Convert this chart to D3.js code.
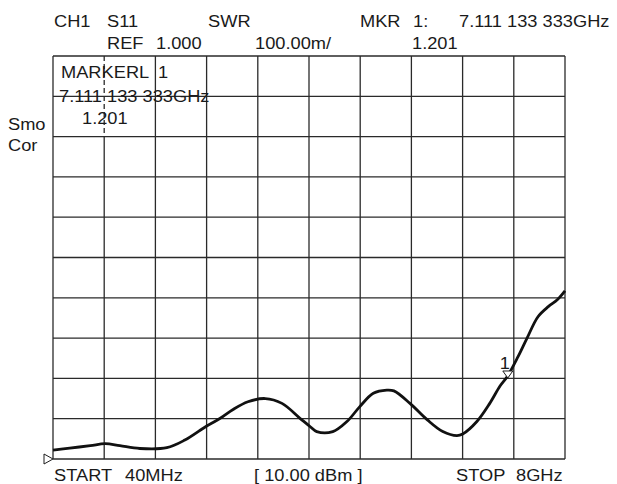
<!DOCTYPE html>
<html>
<head>
<meta charset="utf-8">
<script src="https://cdn.jsdelivr.net/npm/d3@7"></script>
<style>
  body { margin: 0; background: #fff; }
  text { font-family: "Liberation Sans", Arial, sans-serif; fill: #1a1a1a; }
</style>
</head>
<body>
<div id="chart"></div>
<script>
var svgWidth = 617;
var svgHeight = 484;

// trace (frequency in GHz, SWR)
var freqGHz = [0.04, 0.30, 0.62, 0.85, 1.08, 1.39, 1.81, 2.09, 2.43, 2.64, 2.84, 3.07, 3.34, 3.60,
  3.88, 4.04, 4.14, 4.39, 4.61, 4.81, 5.02, 5.23, 5.34, 5.59, 5.86, 6.10, 6.32, 6.41, 6.63,
  6.83, 6.99, 7.10, 7.27, 7.41, 7.58, 7.74, 7.88, 8.00];
var swr = [1.022, 1.027, 1.033, 1.038, 1.033, 1.026, 1.028, 1.047, 1.082, 1.101, 1.123, 1.142, 1.150, 1.138,
  1.101, 1.080, 1.068, 1.068, 1.093, 1.130, 1.163, 1.171, 1.169, 1.138, 1.097, 1.068, 1.058, 1.062, 1.093,
  1.138, 1.181, 1.204, 1.254, 1.300, 1.353, 1.378, 1.395, 1.417];

var startGHz = 0.04, stopGHz = 8;
var refValue = 1.0, perDiv = 0.1, divisions = 10;
var markerFreq = 7.111133333, markerValue = 1.201;

var svg = d3.select("#chart")
  .append("svg")
  .attr("width", svgWidth)
  .attr("height", svgHeight);

var x = d3.scaleLinear().domain([startGHz, stopGHz]).range([53, 565]);
var y = d3.scaleLinear().domain([refValue, refValue + perDiv * divisions]).range([459, 56]);

var xTicks = d3.range(divisions + 1).map(i => startGHz + i * (stopGHz - startGHz) / divisions);
var yTicks = d3.range(divisions + 1).map(i => refValue + i * perDiv);

var grid = svg.append("g").attr("stroke", "#2a2a2a").attr("stroke-width", 1.3);

grid.selectAll("line.h")
  .data(yTicks)
  .enter()
  .append("line")
  .attr("x1", x(startGHz)).attr("x2", x(stopGHz))
  .attr("y1", d => y(d)).attr("y2", d => y(d));

grid.selectAll("line.v")
  .data(xTicks)
  .enter()
  .append("line")
  .attr("x1", d => x(d)).attr("x2", d => x(d))
  .attr("y1", (d, i) => i == 1 ? y(refValue + 8 * perDiv) : y(refValue + perDiv * divisions))
  .attr("y2", y(refValue));

// dashed piece of the second column line behind the marker readout
grid.append("line")
  .attr("x1", x(xTicks[1])).attr("x2", x(xTicks[1]))
  .attr("y1", y(refValue + perDiv * divisions)).attr("y2", y(refValue + 8 * perDiv))
  .attr("stroke-dasharray", "5,3");

// trace
var line = d3.line()
  .x((d, i) => x(freqGHz[i]))
  .y(d => y(d))
  .curve(d3.curveCatmullRom);

svg.append("path")
  .datum(swr)
  .attr("d", line)
  .attr("fill", "none")
  .attr("stroke", "#111")
  .attr("stroke-width", 2.8)
  .attr("stroke-linejoin", "round");

// marker 1
var mx = x(markerFreq), my = y(markerValue);
svg.append("path")
  .attr("d", `M${mx},${my} L${mx - 5},${my - 7} L${mx + 5},${my - 7} Z`)
  .attr("fill", "#fff")
  .attr("stroke", "#1e1e1e")
  .attr("stroke-width", 1);

// reference position triangle
var ry = y(refValue);
svg.append("path")
  .attr("d", `M${x(startGHz)},${ry} L${x(startGHz) - 9},${ry - 5} L${x(startGHz) - 9},${ry + 5} Z`)
  .attr("fill", "#fff")
  .attr("stroke", "#1e1e1e")
  .attr("stroke-width", 1);

// labels
var labels = [
  ["CH1", 54, 26.5], ["S11", 107, 26.5], ["SWR", 208, 26.5],
  ["MKR", 360, 26.5], ["1:", 413, 26.5], ["7.111 133 333GHz", 459, 26.5],
  ["REF", 107, 49], ["1.000", 156, 49], ["100.00m/", 255, 49], ["1.201", 412, 49],
  ["Smo", 8, 130], ["Cor", 8, 151],
  ["MARKERL", 61, 78], ["1", 158, 78], ["7.111 133 333GHz", 59, 102], ["1.201", 82, 124],
  ["START", 54, 481], ["40MHz", 125, 481], ["[ 10.00 dBm ]", 254, 481],
  ["STOP", 456, 481], ["8GHz", 516, 481],
  ["1", mx - 8, my - 9]
];

svg.selectAll("text.lbl")
  .data(labels)
  .enter()
  .append("text")
  .attr("class", "lbl")
  .attr("transform", d => `translate(${d[1]},${d[2]}) scale(1.1,1)`)
  .attr("font-size", 16.6)
  .text(d => d[0]);
</script>
</body>
</html>
